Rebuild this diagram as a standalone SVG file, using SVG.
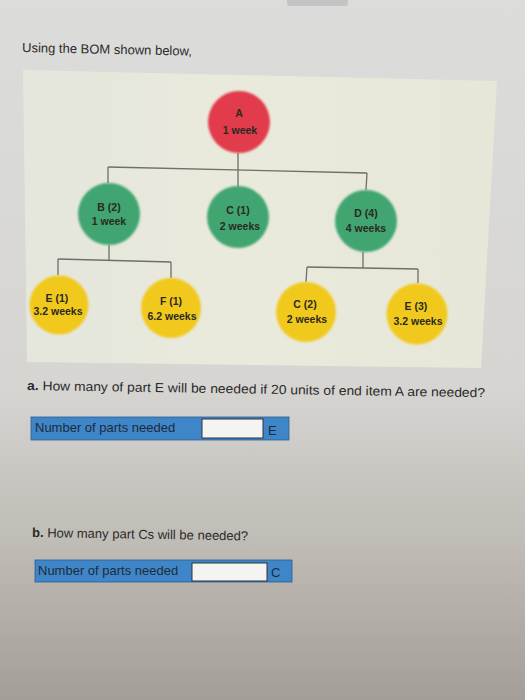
<svg xmlns="http://www.w3.org/2000/svg" width="525" height="700" viewBox="0 0 525 700">
  <defs>
    <linearGradient id="bg" x1="0" y1="0" x2="0" y2="1">
      <stop offset="0" stop-color="#dcdcdb"/>
      <stop offset="0.55" stop-color="#d6d5d2"/>
      <stop offset="0.8" stop-color="#bdb9b2"/>
      <stop offset="1" stop-color="#a39e97"/>
    </linearGradient>
    <linearGradient id="panel" x1="0" y1="0" x2="1" y2="0">
      <stop offset="0" stop-color="#e5e6dc"/>
      <stop offset="0.5" stop-color="#eaeadc"/>
      <stop offset="1" stop-color="#e6e7d8"/>
    </linearGradient>
    <filter id="soft" x="-20%" y="-20%" width="140%" height="140%">
      <feGaussianBlur stdDeviation="1.1"/>
    </filter>
  </defs>
  <style>
    .node circle { filter: url(#soft); }
    .red { fill: #e23a4c; }
    .green { fill: #3fa56f; }
    .yellow { fill: #f1c91c; }
    .lbl { font-family: "Liberation Sans", Arial, sans-serif; font-size: 10.5px; font-weight: bold; fill: #2a2a22; text-anchor: middle; }
    .conn line { stroke: #6e6e6a; stroke-width: 1.3; }
    .q { font-family: "Liberation Sans", Arial, sans-serif; font-size: 13px; fill: #2b2b2b; }
    .bar { fill: #3f86c8; stroke: #2a5f92; stroke-width: 0.8; }
    .inp { fill: #f4f4f2; stroke: #333; stroke-width: 1; }
    .fld { font-family: "Liberation Sans", Arial, sans-serif; font-size: 13px; fill: #1e2a3a; }
  </style>

  <rect x="0" y="0" width="525" height="700" fill="url(#bg)"/>
  <rect x="287" y="-4" width="61" height="10" rx="3" fill="#c4c4c4"/>

  <text class="q" x="22" y="52" font-size="14.5" transform="rotate(1.2 22 52)">Using the BOM shown below,</text>

  <polygon points="23,70 497,81 481,368 27,362" fill="url(#panel)"/>

  <g class="conn" id="connectors">
    <line x1="238" y1="153" x2="238" y2="169"/>
    <line x1="108" y1="167" x2="367" y2="173"/>
    <line x1="108" y1="167" x2="108" y2="183"/>
    <line x1="238" y1="169" x2="238" y2="187"/>
    <line x1="367" y1="173" x2="366" y2="190"/>
    <line x1="109" y1="245" x2="109" y2="260"/>
    <line x1="58" y1="259" x2="171" y2="262"/>
    <line x1="58" y1="259" x2="58" y2="275"/>
    <line x1="171" y1="262" x2="171" y2="278"/>
    <line x1="363" y1="252" x2="363" y2="268"/>
    <line x1="307" y1="267" x2="418" y2="269"/>
    <line x1="307" y1="267" x2="306" y2="282"/>
    <line x1="418" y1="269" x2="418" y2="283"/>
  </g>

  <g class="node" id="nodeA">
    <circle class="red" cx="239" cy="122" r="31"/>
    <text class="lbl" x="239" y="117">A</text>
    <text class="lbl" x="240" y="134">1 week</text>
  </g>
  <g class="node" id="nodeB">
    <circle class="green" cx="109" cy="214" r="31"/>
    <text class="lbl" x="109" y="211">B (2)</text>
    <text class="lbl" x="109" y="225">1 week</text>
  </g>
  <g class="node" id="nodeC1">
    <circle class="green" cx="238" cy="217" r="31"/>
    <text class="lbl" x="238" y="214">C (1)</text>
    <text class="lbl" x="240" y="230">2 weeks</text>
  </g>
  <g class="node" id="nodeD">
    <circle class="green" cx="366" cy="221" r="31"/>
    <text class="lbl" x="366" y="217">D (4)</text>
    <text class="lbl" x="366" y="232">4 weeks</text>
  </g>
  <g class="node" id="nodeE1">
    <circle class="yellow" cx="59" cy="305" r="29.5"/>
    <text class="lbl" x="57" y="302">E (1)</text>
    <text class="lbl" x="58" y="315">3.2 weeks</text>
  </g>
  <g class="node" id="nodeF1">
    <circle class="yellow" cx="171" cy="308" r="30"/>
    <text class="lbl" x="171" y="305">F (1)</text>
    <text class="lbl" x="172" y="320">6.2 weeks</text>
  </g>
  <g class="node" id="nodeC2">
    <circle class="yellow" cx="306" cy="312" r="30"/>
    <text class="lbl" x="305" y="308">C (2)</text>
    <text class="lbl" x="307" y="323">2 weeks</text>
  </g>
  <g class="node" id="nodeE3">
    <circle class="yellow" cx="417" cy="314" r="30.5"/>
    <text class="lbl" x="416" y="310">E (3)</text>
    <text class="lbl" x="418" y="325">3.2 weeks</text>
  </g>

  <text class="q" x="27" y="390" textLength="458" lengthAdjust="spacingAndGlyphs" transform="rotate(0.9 27 390)"><tspan font-weight="bold">a.</tspan> How many of part E will be needed if 20 units of end item A are needed?</text>

  <g id="fieldA">
    <rect class="bar" x="31" y="417" width="258" height="23"/>
    <rect class="inp" x="202" y="419" width="61" height="19"/>
    <text class="fld" x="35" y="432">Number of parts needed</text>
    <text class="fld" x="268" y="435">E</text>
  </g>

  <text class="q" x="32" y="537" transform="rotate(0.9 32 537)"><tspan font-weight="bold">b.</tspan> How many part Cs will be needed?</text>

  <g id="fieldB">
    <rect class="bar" x="35" y="560" width="257" height="22"/>
    <rect class="inp" x="192" y="563" width="75" height="18"/>
    <text class="fld" x="38" y="575">Number of parts needed</text>
    <text class="fld" x="271" y="577">C</text>
  </g>
</svg>
